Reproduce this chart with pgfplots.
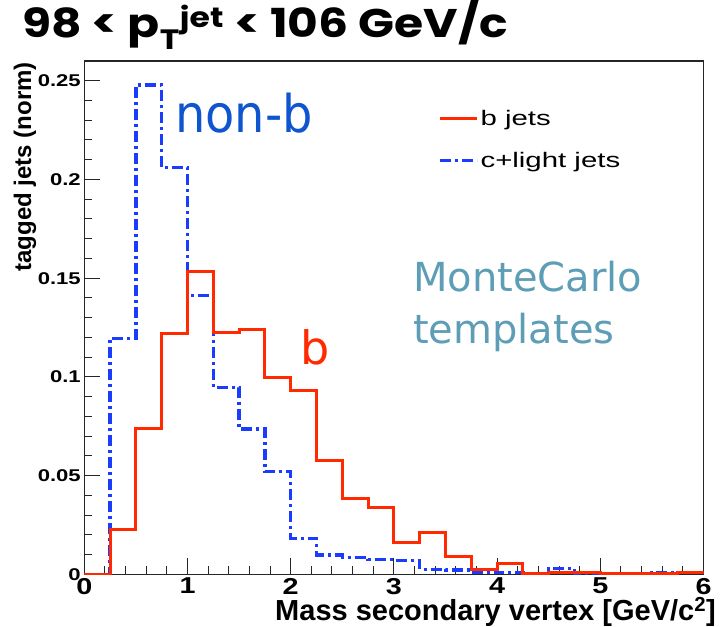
\documentclass[border=0pt]{standalone}
\usepackage{fontspec}
\setmainfont{Liberation Sans}
\newfontfamily\annfont{DejaVu Sans}
\newfontfamily\titlefont{Poppins}
\usepackage{graphicx}
\usepackage{pgfplots}
\usepackage{pgfplotstable}
\pgfplotsset{compat=1.18}

\definecolor{bjet}{HTML}{FF2A00}
\definecolor{cjet}{HTML}{1A3CFF}
\definecolor{nonb}{HTML}{0F55D0}
\definecolor{mctext}{HTML}{5E9DB6}

\newcommand{\wx}[1]{\scalebox{1.25}[1]{#1}}
\newcommand{\wy}[1]{\scalebox{1.3}[1]{#1}}

% secondary-vertex mass templates, bins of 0.25 GeV/c^2 (lower edge, content)
\pgfplotstableread{
x     y
0.00  0.0
0.25  0.0229
0.50  0.0740
0.75  0.1221
1.00  0.1533
1.25  0.1226
1.50  0.1243
1.75  0.0998
2.00  0.0934
2.25  0.0576
2.50  0.0386
2.75  0.0340
3.00  0.0161
3.25  0.0214
3.50  0.0090
3.75  0.0026
4.00  0.0057
4.25  0.0004
4.50  0.0009
4.75  0.0009
5.00  0.0003
5.25  0.0003
5.50  0.0003
5.75  0.0009
6.00  0.0009
}\bjets
\pgfplotstableread{
x     y
0.00  0.0
0.25  0.1196
0.50  0.2478
0.75  0.2060
1.00  0.1412
1.25  0.0948
1.50  0.0737
1.75  0.0521
2.00  0.0183
2.25  0.0099
2.50  0.0087
2.75  0.0077
3.00  0.0071
3.25  0.0026
3.50  0.0022
3.75  0.0013
4.00  0.0010
4.25  0.0003
4.50  0.0030
4.75  0.0008
5.00  0.0004
5.25  0.0005
5.50  0.0010
5.75  0.0010
6.00  0.0010
}\cjets

\begin{document}
\begin{tikzpicture}
\path[use as bounding box] (0,0) rectangle (725bp,627bp);
\begin{axis}[
  at={(84.3bp,52.5bp)}, anchor=south west,
  scale only axis, width=619.2bp, height=513.5bp,
  xmin=0, xmax=6, ymin=0, ymax=0.26,
  axis line style={line width=1.1bp, black!85},
  tick style={line width=1bp, black!85},
  tick align=inside,
  xtick pos=bottom, ytick pos=left,
  xtick={0,1,2,3,4,5,6},
  xticklabels={\wx{0},\wx{1},\wx{2},\wx{3},\wx{4},\wx{5},\wx{6}},
  ytick={0,0.05,0.1,0.15,0.2,0.25},
  yticklabels={\wy{0},\wy{0.05},\wy{0.1},\wy{0.15},\wy{0.2},\wy{0.25}},
  minor x tick num=4, minor y tick num=4,
  major tick length=16bp, minor tick length=8bp,
  xticklabel style={font=\bfseries\fontsize{23bp}{27bp}\selectfont},
  yticklabel style={font=\bfseries\fontsize{17bp}{20bp}\selectfont},
  legend style={draw=none, fill=none, at={(axis description cs:0.571,0.908)},
    anchor=north west, inner sep=0pt, row sep=21bp,
    font=\fontsize{21bp}{25bp}\selectfont},
  legend cell align=left,
  legend image code/.code={\draw[#1] (0bp,0bp) -- (37bp,0bp);},
]
\addplot[const plot, cjet, line width=3.5bp,
  dash pattern=on 11bp off 4bp on 3bp off 4bp, forget plot] table {\cjets};
\addplot[const plot, bjet, line width=3bp] table {\bjets};
\addlegendentry{\scalebox{1.4}[1]{b jets}}
\addlegendimage{cjet, line width=3.5bp, dash pattern=on 11bp off 4bp on 3bp off 4bp}
\addlegendentry{\scalebox{1.4}[1]{c+light jets}}
\end{axis}

% title and axis titles
\node[anchor=base west, inner sep=0pt,
  font=\titlefont\bfseries\fontsize{40bp}{46bp}\selectfont]
  at (22bp,589bp) {\scalebox{1.18}[1]{98 < p\textsubscript{T}\textsuperscript{jet} < 106 GeV/c}};
\node[rotate=90, anchor=base east, inner sep=0pt,
  font=\bfseries\fontsize{24bp}{28bp}\selectfont]
  at (31bp,565bp) {tagged jets (norm)};
\node[anchor=base east, inner sep=0pt,
  font=\bfseries\fontsize{29bp}{34bp}\selectfont]
  at (716bp,7bp) {Mass secondary vertex [GeV/c\textsuperscript{2}]};

% annotations
\node[anchor=base west, inner sep=0pt, text=nonb,
  font=\annfont\fontsize{52bp}{60bp}\selectfont]
  at (175bp,494bp) {\scalebox{0.92}[1]{non-b}};
\node[anchor=base west, inner sep=0pt, text=bjet,
  font=\annfont\fontsize{46bp}{54bp}\selectfont]
  at (300bp,262bp) {b};
\node[anchor=base west, inner sep=0pt, text=mctext,
  font=\annfont\fontsize{40bp}{48bp}\selectfont]
  at (413bp,335bp) {MonteCarlo};
\node[anchor=base west, inner sep=0pt, text=mctext,
  font=\annfont\fontsize{40bp}{48bp}\selectfont]
  at (413bp,283bp) {templates};
\end{tikzpicture}
\end{document}
